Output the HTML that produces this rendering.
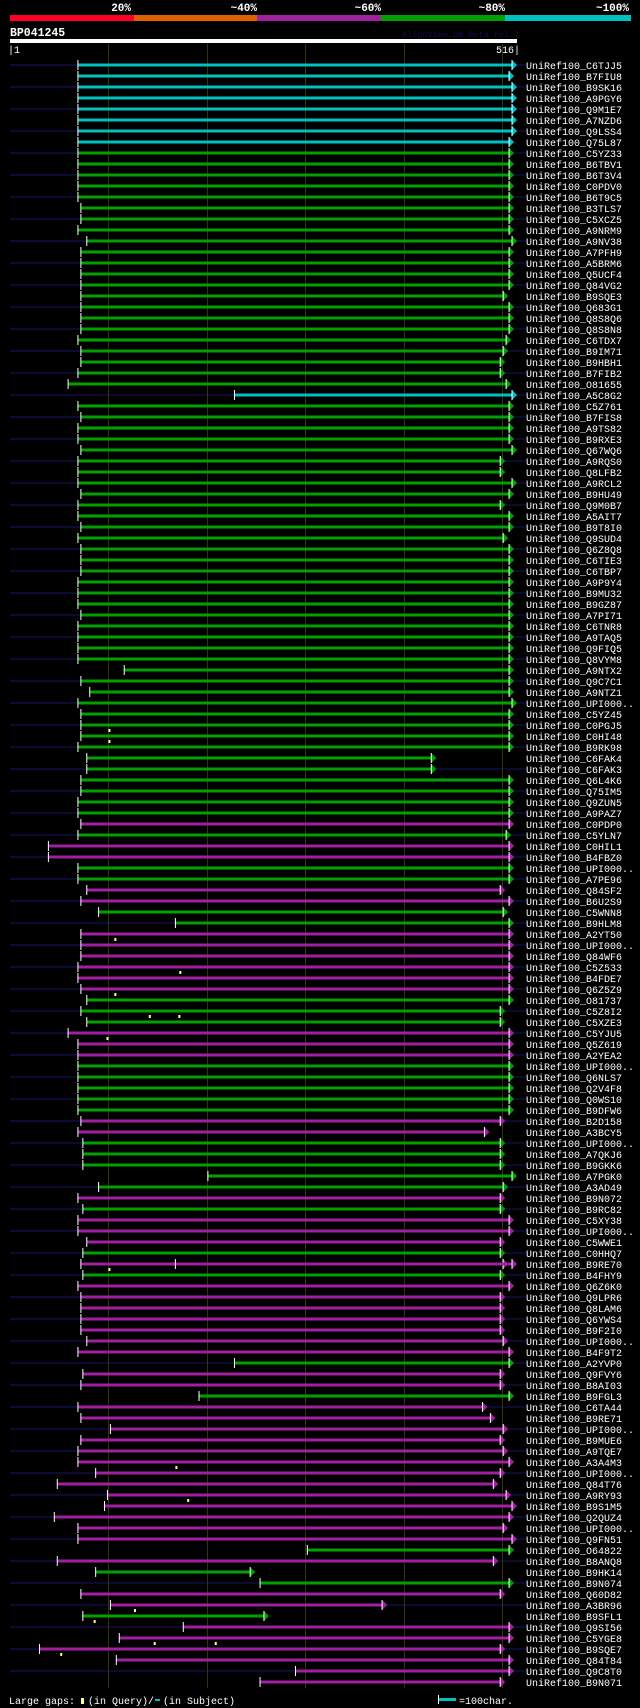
<!DOCTYPE html>
<html><head><meta charset="utf-8"><style>
html,body{margin:0;padding:0;background:#000;}
svg{display:block;}
text{font-family:"Liberation Mono",monospace;}
</style></head><body>
<svg id="chart" width="640" height="1708" viewBox="0 0 640 1708" xmlns="http://www.w3.org/2000/svg">
<rect x="0" y="0" width="640" height="1708" fill="#000"/>
<g>
<rect x="10" y="15" width="124" height="6" fill="#ff0022"/>
<rect x="134" y="15" width="123" height="6" fill="#e06000"/>
<rect x="257" y="15" width="124" height="6" fill="#a020a0"/>
<rect x="381" y="15" width="124" height="6" fill="#00a000"/>
<rect x="505" y="15" width="126" height="6" fill="#00c0c0"/>
<g font-weight="bold" font-size="11" fill="#fff" text-anchor="end">
<text x="131" y="11">20%</text>
<text x="257" y="11">~40%</text>
<text x="381" y="11">~60%</text>
<text x="505" y="11">~80%</text>
<text x="629" y="11">~100%</text>
</g></g>
<text x="10" y="36" font-size="11.5" font-weight="bold" fill="#fff">BP041245</text>
<text x="402" y="37" font-size="8.5" fill="#10104a">AlignView.pm Beta rel.7</text>
<rect x="10" y="39" width="507" height="4" fill="#fff"/>
<text x="8" y="53" font-size="10" fill="#fff">|1</text>
<text x="520" y="53" font-size="10" fill="#fff" text-anchor="end">516|</text>
<g id="stripes"></g>
<g id="grid"></g>
<g id="rows"></g>
<g>
<text x="9" y="1704" font-size="10" fill="#fff">Large gaps:</text>
<rect x="81" y="1698" width="3" height="6" fill="#ffff80"/>
<text x="88" y="1704" font-size="10" fill="#fff">(in Query)/</text>
<rect x="155" y="1699" width="5" height="2" fill="#00c0c0"/>
<text x="163" y="1704" font-size="10" fill="#fff">(in Subject)</text>
<rect x="438" y="1695" width="1" height="9" fill="#fff"/>
<rect x="439" y="1698" width="17" height="3" fill="#00c0c0"/>
<text x="459" y="1704" font-size="10" fill="#fff">=100char.</text>
</g>
</svg>
<script>
const names = ["C6TJJ5","B7FIU8","B9SK16","A9PGY6","Q9M1E7","A7NZD6","Q9LSS4","Q75L87","C5YZ33","B6TBV1","B6T3V4","C0PDV0","B6T9C5","B3TLS7","C5XCZ5","A9NRM9","A9NV38","A7PFH9","A5BRM6","Q5UCF4","Q84VG2","B9SQE3","Q683G1","Q8S8Q6","Q8S8N8","C6TDX7","B9IM71","B9HBH1","B7FIB2","O81655","A5C8G2","C5Z761","B7FIS8","A9TS82","B9RXE3","Q67WQ6","A9RQS0","Q8LFB2","A9RCL2","B9HU49","Q9M0B7","A5AIT7","B9T8I0","Q9SUD4","Q6Z8Q8","C6TIE3","C6TBP7","A9P9Y4","B9MU32","B9GZ87","A7PI71","C6TNR8","A9TAQ5","Q9FIQ5","Q8VYM8","A9NTX2","Q9C7C1","A9NTZ1","UPI000..","C5YZ45","C0PGJ5","C0HI48","B9RK98","C6FAK4","C6FAK3","Q6L4K6","Q75IM5","Q9ZUN5","A9PAZ7","C0PDP0","C5YLN7","C0HIL1","B4FBZ0","UPI000..","A7PE96","Q84SF2","B6U2S9","C5WNN8","B9HLM8","A2YT50","UPI000..","Q84WF6","C5Z533","B4FDE7","Q6Z5Z9","O81737","C5Z8I2","C5XZE3","C5YJU5","Q5Z619","A2YEA2","UPI000..","Q6NLS7","Q2V4F8","Q0WS10","B9DFW6","B2D158","A3BCY5","UPI000..","A7QKJ6","B9GKK6","A7PGK0","A3AD49","B9N072","B9RC82","C5XY38","UPI000..","C5WWE1","C0HHQ7","B9RE70","B4FHY9","Q6Z6K0","Q9LPR6","Q8LAM6","Q6YWS4","B9F2I0","UPI000..","B4F9T2","A2YVP0","Q9FVY6","B8AI03","B9FGL3","C6TA44","B9RE71","UPI000..","B9MUE6","A9TQE7","A3A4M3","UPI000..","Q84T76","A9RY93","B9S1M5","Q2QUZ4","UPI000..","Q9FN51","O64822","B8ANQ8","B9HK14","B9N074","Q60D82","A3BR96","B9SFL1","Q9SI56","C5YGE8","B9SQE7","Q84T84","Q9C8T0","B9N071"];
const starts = [70,70,70,70,70,70,70,70,70,70, 70,70,70,73,73,70,79,73,73,73, 73,73,73,73,73,70,73,73,70,60, 229,70,73,70,70,73,70,70,70,73, 70,70,73,70,73,73,73,70,70,70, 73,70,70,70,70,117,73,82,70,73, 73,73,70,79,79,73,73,70,70,73, 70,40,40,70,70,79,73,91,169,73, 73,73,70,70,73,79,73,79,60,70, 70,70,70,70,70,70,73,70,75,75, 75,202,91,70,75,70,70,79,75,73, 75,70,73,73,73,73,79,70,229,75, 73,193,70,73,103,73,70,70,88,49, 100,97,46,70,70,303,49,88,255,73, 103,75,177,112,31,109,291,255];
const ends = [516,513,516,516,516,516,516,513,513,513, 513,513,513,513,513,513,516,513,513,513, 513,507,513,513,513,510,507,504,504,510, 516,513,513,513,513,516,504,504,516,513, 504,513,513,507,513,513,513,513,513,513, 513,513,513,513,513,513,513,513,516,513, 513,513,513,434,434,513,513,513,513,513, 510,513,513,513,513,504,513,507,513,513, 513,513,513,513,513,513,504,504,513,513, 513,513,513,513,513,513,504,488,504,504, 504,516,507,504,504,513,513,504,504,507, 504,513,504,504,504,504,507,513,513,504, 504,513,486,494,507,504,507,513,504,497, 510,516,513,507,516,513,497,250,513,504, 384,264,513,513,504,513,513,504];
const identityClass = ("cccccccc"+"gggggggggggggggggggggg"+"c"+"gggggggggggggggggggggggggggggggggggggg"+"m"+"g"+"mm"+"gg"+"mm"+"gg"+"mmmmmm"+"ggg"+"mmm"+"ggggg"+"mm"+"ggggg"+"m"+"g"+"mmm"+"g"+"m"+"g"+"mmmmmmm"+"g"+"mm"+"g"+"mmmmmmmmmmmmm"+"g"+"m"+"gg"+"mm"+"g"+"mmmmmm").split("");
const gapRows = [61,62,80,83,85,87,87,89,110,128,131,141,142,144,144,145];
const gapPos = [102,102,108,174,108,143,173,100,102,170,182,128,87,148,210,53];
const extraRows = [110];
const extraStarts = [169];
const extraEnds = [516];
const gridTicks = [101,201,301,401,501];

const COLORS = {c:"#00c0c0", g:"#00a000", m:"#a020a0"};
const NS = "http://www.w3.org/2000/svg";
function xScale(r){ return 10 + (r-1)*0.9845; }
function yRow(i){ return 65 + i*11; }
function mk(tag, attrs, parent){
  const e = document.createElementNS(NS, tag);
  for (const k in attrs) e.setAttribute(k, attrs[k]);
  parent.appendChild(e); return e;
}
const stripes = document.getElementById("stripes");
const grid = document.getElementById("grid");
const rows = document.getElementById("rows");

for (let i=0;i<names.length;i+=2){
  const s = mk("rect",{x:10,y:yRow(i)-1,width:516,height:2,fill:"#0a0a32"},stripes);
  
  
}
gridTicks.forEach(t=>{
  const l = mk("rect",{x:Math.round(xScale(t)),y:44,width:1,height:1644,fill:"#33330c"},grid);
  
  
});

function drawHsp(g, y, r1, r2, col){
  const xs = xScale(r1), xe = xScale(r2);
  const bar = mk("rect",{x:xs,y:y-1.5,width:Math.max(0,xe-5-xs),height:3,fill:col},g);
  
  
  const tick = mk("rect",{x:xs-0.5,y:y-5,width:1,height:10,fill:"#fff"},g);
  
  
  const arr = mk("polygon",{points:(xe-5)+","+(y-5)+" "+xe+","+y+" "+(xe-5)+","+(y+5),fill:col},g);
  
  
  const ae = mk("rect",{x:xe-5.5,y:y-5,width:1,height:10,fill:"#fff"},g);
  
  
}

names.forEach((n,i)=>{
  const y = yRow(i);
  const g = mk("g",{},rows);
  
  
  drawHsp(g, y, starts[i], ends[i], COLORS[identityClass[i]] || "#a020a0");
  const t = mk("text",{x:526,y:y+4,"font-size":10,fill:"#fff"},g);
  t.textContent = "UniRef100_" + n;
  
  
});
extraRows.forEach((r,k)=>{
  const g = rows.children[r-1];
  drawHsp(g, yRow(r-1), extraStarts[k], extraEnds[k], COLORS[identityClass[r-1]]);
});
gapRows.forEach((r,k)=>{
  const x = xScale(gapPos[k]);
  const m = mk("rect",{x:x-1,y:yRow(r-1)+4,width:2,height:3,fill:"#ffff80"},rows);
  
  
});
</script>
</body></html>
